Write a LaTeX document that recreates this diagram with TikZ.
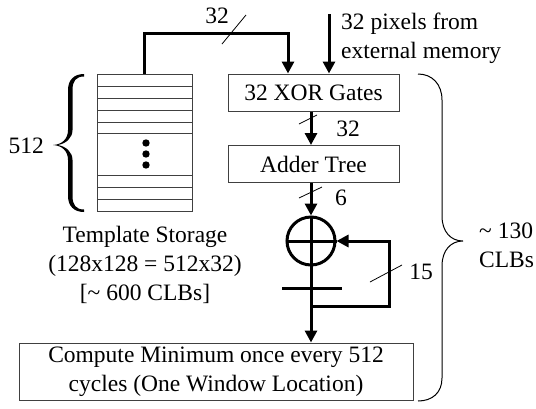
\documentclass[tikz,border=0pt]{standalone}
\usepackage{fontspec}
\setmainfont{Liberation Serif}
\usetikzlibrary{arrows.meta}
\begin{document}
\begin{tikzpicture}[x=1pt,y=-1pt,
  wire/.style={line width=3pt},
  arr/.style={wire,-{Triangle[length=12pt,width=12pt]}},
  box/.style={draw=black!75,line width=1pt,inner sep=0pt,font=\fontsize{23.5}{29}\selectfont,align=center},
  thinl/.style={line width=0.8pt},
  lbl/.style={font=\fontsize{23.5}{29}\selectfont,inner sep=0pt},
]
\useasboundingbox (0,0) rectangle (536,408);
% storage
\node[box,minimum width=95pt,minimum height=137pt] (storage) at (144.5,142.5) {};
\foreach \y in {86,98,110,122,133,175,187,199} \draw[thinl,black!75] (97,\y) -- (192,\y);
\foreach \y in {143,154,165} \fill (146,\y) circle (3.7pt);
\fill (84,74) .. controls (74,74) and (68,80) .. (68,90) -- (68,130) .. controls (68,139) and (62,144.5) .. (53,145) .. controls (62,145.5) and (68,151) .. (68,160) -- (68,196) .. controls (68,206) and (74,212) .. (84,212)
  -- (84,209.5) .. controls (76,209.5) and (72.5,205) .. (72.5,196) -- (72.5,160) .. controls (72.5,152) and (66,146.5) .. (58,145) .. controls (66,143.5) and (72.5,138) .. (72.5,130) -- (72.5,90) .. controls (72.5,81) and (76,76.5) .. (84,76.5) -- cycle;
\node[lbl,anchor=east] (n512) at (44,146) {512};
\node[lbl,align=center,anchor=north] (tstext) at (145,226) {Template Storage\\(128x128 = 512x32)\\{}[\char`\~{} 600 CLBs]};
% boxes
\node[box,minimum width=171pt,minimum height=37pt] (xor) at (313.5,92.5) {32 XOR Gates};
\node[box,minimum width=171pt,minimum height=37pt] (adder) at (313.5,164) {Adder Tree};
\node[box,minimum width=394pt,minimum height=57pt] (comp) at (216,371.5) {Compute Minimum once every 512\\cycles (One Window Location)};
\node[draw,circle,line width=3pt,minimum size=48pt,inner sep=0pt] (sum) at (311,241) {};
\draw[wire] (sum.west) -- (sum.east);
% top wire
\coordinate (tc) at (288,33);
\draw[arr] (storage.north) |- (tc) -- (tc |- xor.north);
\draw[thinl] (222,44) -- (246,15);
\node[lbl] (l32a) at (217,16) {32};
\coordinate (ext) at (329,14);
\draw[arr] (ext) -- (ext |- xor.north);
\node[lbl,align=left,anchor=north west] (exttext) at (341,13) {32 pixels from\\external memory};
% chain
\draw[arr] (xor.south -| sum) -- (adder.north -| sum);
\draw[thinl] (299,124) -- (317,115);
\node[lbl] (l32b) at (348,129) {32};
\draw[arr] (adder.south -| sum) -- (sum.north);
\draw[thinl] (299,198) -- (322,187);
\node[lbl] (l6) at (341,198) {6};
\draw[arr] (sum.north) -- (sum.south |- comp.north);
% register and feedback
\coordinate (rl) at (282,288);
\coordinate (rr) at (342,288);
\draw[wire] (rl) -- (rr);
\coordinate (fb) at (311,306);
\coordinate (fbc) at (389,241);
\draw[arr] (fb) -| (fbc) -- (sum.east);
\draw[thinl] (370,282) -- (402,265);
\node[lbl] (l15) at (421,272) {15};
% right brace
\draw[line width=1pt] (418,74) .. controls (432,74) and (442,84) .. (442,100) -- (442,216) .. controls (442,232) and (451,241) .. (463,241) .. controls (451,241) and (442,250) .. (442,266) -- (442,378) .. controls (442,393) and (432,401) .. (418,401);
\node[lbl,align=left,anchor=west] (clb) at (479,245) {\char`\~{} 130\\CLBs};
\end{tikzpicture}
\end{document}
